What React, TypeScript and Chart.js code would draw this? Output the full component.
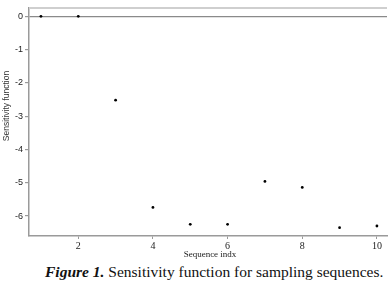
import React, { useEffect, useRef } from "react";
import { Chart, registerables } from "chart.js";

Chart.register(...registerables);

const sequenceIndex = [1, 2, 3, 4, 5, 6, 7, 8, 9, 10];
const sensitivity = [0, 0, -2.52, -5.74, -6.25, -6.25, -4.96, -5.14, -6.35, -6.3];
const xTicks = [2, 4, 6, 8, 10];
const yTicks = [-6, -5, -4, -3, -2, -1, 0];
const xTitle = "Sequence indx";
const yTitle = "Sensitivity function";

const framePlugin = {
  id: "framePlugin",
  afterDraw(chart: any) {
    const { ctx, chartArea } = chart;
    ctx.save();
    ctx.strokeStyle = "#cfcfcf";
    ctx.lineWidth = 2;
    ctx.beginPath();
    ctx.moveTo(chartArea.left, chartArea.top);
    ctx.lineTo(chartArea.right, chartArea.top);
    ctx.stroke();
    // y-axis title
    ctx.fillStyle = "#333";
    ctx.font = "8.5px 'Liberation Sans'";
    ctx.textAlign = "center";
    ctx.textBaseline = "middle";
    ctx.translate(7, 106);
    ctx.rotate(-Math.PI / 2);
    ctx.fillText(yTitle, 0, 0);
    ctx.restore();
    ctx.save();
    ctx.fillStyle = "#222";
    ctx.font = "9px 'Liberation Serif'";
    ctx.textAlign = "center";
    ctx.textBaseline = "middle";
    ctx.fillText(xTitle, 210, 255);
    ctx.restore();
  },
};

export default function App() {
  const ref = useRef<HTMLCanvasElement>(null);
  useEffect(() => {
    document.body.style.margin = "0";
    const chart = new Chart(ref.current!, {
      type: "scatter",
      data: {
        datasets: [
          {
            data: sequenceIndex.map((x, i) => ({ x, y: sensitivity[i] })),
            pointRadius: 1.4,
            pointBackgroundColor: "#000",
            pointBorderColor: "#000",
            pointBorderWidth: 0,
            showLine: false,
          },
        ],
      },
      options: {
        responsive: false,
        animation: false,
        layout: { padding: { top: 8, right: 5, left: 0, bottom: 0 } },
        plugins: { legend: { display: false }, tooltip: { enabled: false } },
        scales: {
          x: {
            type: "linear",
            min: 0.68,
            max: 10.27,
            afterBuildTicks: (s: any) => {
              s.ticks = xTicks.map((v) => ({ value: v }));
            },
            afterFit: (s: any) => {
              s.height = 24;
            },
            border: { color: "#9a9a9a", width: 1.5 },
            grid: { drawOnChartArea: false, tickLength: 3, tickColor: "#9a9a9a" },
            ticks: {
              padding: 1,
              color: "#222",
              font: { family: "'Liberation Serif'", size: 10 },
            },
          },
          y: {
            type: "linear",
            min: -6.6,
            max: 0.25,
            afterBuildTicks: (s: any) => {
              s.ticks = yTicks.map((v) => ({ value: v }));
            },
            afterFit: (s: any) => {
              s.width = 29;
            },
            border: { color: "#9a9a9a", width: 1.5 },
            grid: {
              tickLength: 4,
              tickColor: "#9a9a9a",
              color: (c: any) => (c.tick && c.tick.value === 0 ? "#8a8a8a" : "rgba(0,0,0,0)"),
              lineWidth: 1.2,
            },
            ticks: {
              padding: 2,
              color: "#222",
              font: { family: "'Liberation Sans'", size: 9 },
            },
          },
        },
      },
      plugins: [framePlugin],
    });
    return () => chart.destroy();
  }, []);
  return (
    <div style={{ position: "relative", width: 392, height: 295, background: "#fff" }}>
      <canvas ref={ref} width={392} height={260} style={{ position: "absolute", left: 0, top: 0 }} />
      <div
        style={{
          position: "absolute",
          left: 45,
          top: 264,
          fontFamily: "'Liberation Serif'",
          fontSize: 15.5,
          lineHeight: "15px",
          color: "#111",
          whiteSpace: "nowrap",
        }}
      >
        <b>
          <i>Figure 1.</i>
        </b>{" "}
        Sensitivity function for sampling sequences.
      </div>
    </div>
  );
}
